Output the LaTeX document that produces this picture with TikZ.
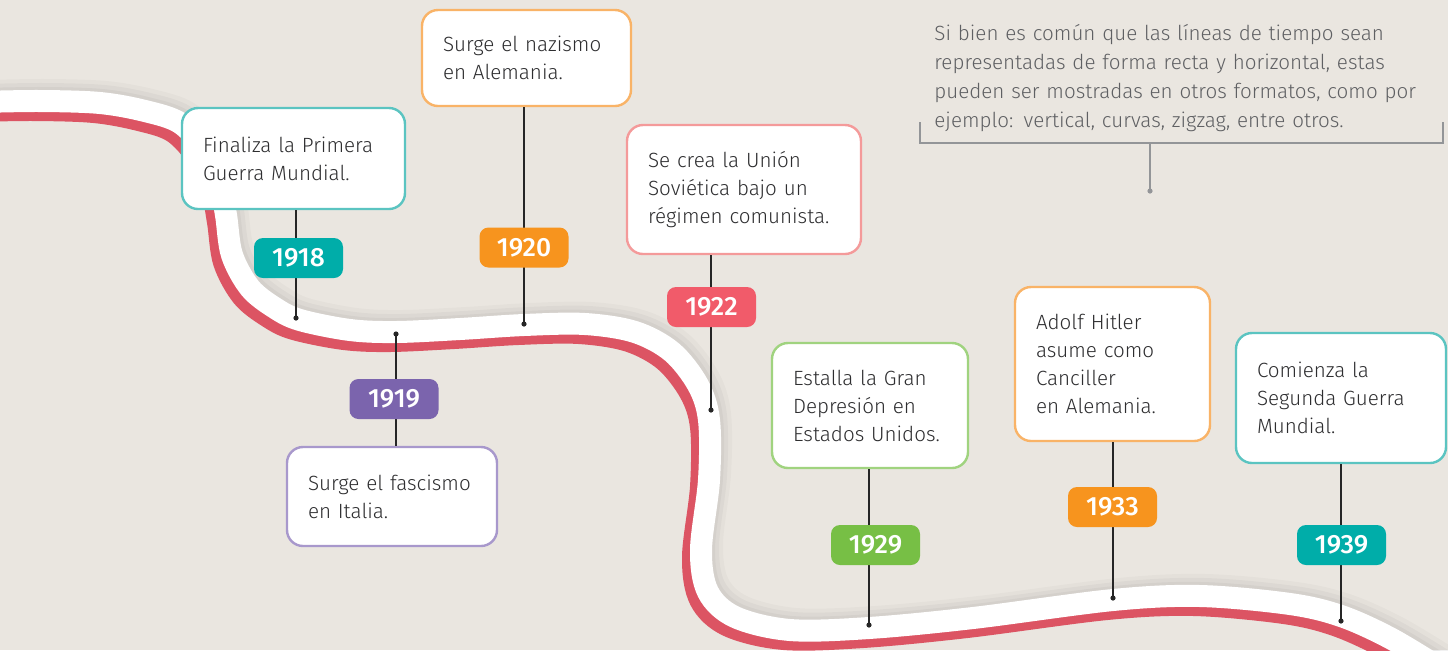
\documentclass[tikz,border=0pt]{standalone}
\usepackage{fontspec}
\setmainfont{Fira Sans}[UprightFont=* Light, BoldFont=* Medium]
\definecolor{bgbeige}{HTML}{EAE6E0}
\definecolor{tealline}{HTML}{5BC4C1}
\definecolor{tealfill}{HTML}{00ADA9}
\definecolor{orangeline}{HTML}{F9B367}
\definecolor{orangefill}{HTML}{F7941E}
\definecolor{purpleline}{HTML}{A898CC}
\definecolor{purplefill}{HTML}{7B64AD}
\definecolor{pinkline}{HTML}{F49A9A}
\definecolor{pinkfill}{HTML}{F15B6A}
\definecolor{greenline}{HTML}{A0D37F}
\definecolor{greenfill}{HTML}{77BF45}
\definecolor{roadred}{HTML}{DC5463}
\definecolor{inkgrey}{HTML}{2E2E30}
\definecolor{notegrey}{HTML}{5F6063}
\definecolor{bracegrey}{HTML}{939598}
\newcommand{\boxfont}{\fontsize{10.3}{14}\selectfont}

\begin{document}
\begin{tikzpicture}[x=0.5pt,y=-0.5pt,
  evbox/.style={draw=#1,line width=1.2pt,fill=white,rounded corners=8pt,
    align=left,inner xsep=10.5pt,inner ysep=0pt,text=inkgrey,font=\boxfont},
  yearbox/.style={fill=#1,rounded corners=4.5pt,minimum width=44.5pt,
    minimum height=20pt,inner sep=0pt,text=white,
    font=\fontsize{13.2}{14}\selectfont\bfseries},
  stem/.style={line width=0.55pt,draw=black!85}]
  \fill[bgbeige] (0,0) rectangle (1448,650);
  \useasboundingbox (0,0) rectangle (1448,650);
  % the road: shadow, red edge, white band
  \foreach \dx/\dy/\lw/\col/\op in {6/-6/16pt/black/0.025,4/-4/14pt/black/0.03,
      2/-2/12pt/black/0.035,-6/7/13pt/roadred/1,0/0/11pt/white/1}
    \draw[line width=\lw,draw=\col,opacity=\op,shift={(\dx,\dy)}]
      plot[smooth,tension=0.55] coordinates {(-20,102) (40,101) (100,103)
      (145,111) (180,123) (205,150) (220,185) (226,215) (232,255) (250,288)
      (275,308) (300,320) (350,330) (396,332) (460,329) (524,325) (585,324)
      (635,332) (672,352) (698,385) (709,420) (709,480) (701,550) (708,592)
      (735,617) (790,630) (869,628) (973,618) (1113,600) (1200,596)
      (1290,604) (1341,616) (1390,638) (1440,668)};
  % points on the road
  \coordinate (p1918) at (296,318);
  \coordinate (p1919) at (396,334);
  \coordinate (p1920) at (524,324);
  \coordinate (p1922) at (711,410);
  \coordinate (p1929) at (869,625);
  \coordinate (p1933) at (1113,598);
  \coordinate (p1939) at (1341,621);
  % events
  \node[evbox=tealline,text width=90.5pt,minimum height=50.5pt] (b1918)
    at (293.5,158.5) {Finaliza la Primera\\Guerra Mundial.};
  \node[evbox=orangeline,text width=83.5pt,minimum height=48pt] (b1920)
    at (526.5,58) {Surge el nazismo\\en Alemania.};
  \node[evbox=purpleline,text width=84pt,minimum height=49.5pt] (b1919)
    at (392,496.5) {Surge el fascismo\\en Italia.};
  \node[evbox=pinkline,text width=96pt,minimum height=64.5pt] (b1922)
    at (744,189.5) {Se crea la Unión\\Soviética bajo un\\régimen comunista.};
  \node[evbox=greenline,text width=77pt,minimum height=62.5pt] (b1929)
    at (870,405.5) {Estalla la Gran\\Depresión en\\Estados Unidos.};
  \node[evbox=orangeline,text width=76.5pt,minimum height=77pt] (b1933)
    at (1112.5,364) {Adolf Hitler\\asume como\\Canciller\\en Alemania.};
  \node[evbox=tealline,text width=84pt,minimum height=65pt] (b1939)
    at (1341,398) {Comienza la\\Segunda Guerra\\Mundial.};
  % stems
  \draw[stem] (b1918.south -| p1918) -- (p1918);
  \draw[stem] (b1920.south -| p1920) -- (p1920);
  \draw[stem] (p1919) -- (b1919.north -| p1919);
  \draw[stem] (b1922.south -| p1922) -- (p1922);
  \draw[stem] (b1929.south -| p1929) -- (p1929);
  \draw[stem] (b1933.south -| p1933) -- (p1933);
  \draw[stem] (b1939.south -| p1939) -- (p1939);
  \foreach \p in {p1918,p1919,p1920,p1922,p1929,p1933,p1939}
    \fill[black!85] (\p) circle (1.3pt);
  % years
  \node[yearbox=tealfill] (y1918) at (298.5,258) {1918};
  \node[yearbox=purplefill] (y1919) at (394,399) {1919};
  \node[yearbox=orangefill] (y1920) at (524,247.5) {1920};
  \node[yearbox=pinkfill] (y1922) at (711.5,307) {1922};
  \node[yearbox=greenfill] (y1929) at (875.5,545) {1929};
  \node[yearbox=orangefill] (y1933) at (1112.5,507) {1933};
  \node[yearbox=tealfill] (y1939) at (1341.5,545) {1939};
  % note
  \node[anchor=north west,inner sep=0pt,text width=250pt,align=left,
    text=notegrey,font=\fontsize{10.3}{14.5}\selectfont] (note) at (934,24)
    {Si bien es común que las líneas de tiempo sean\\
     representadas de forma recta y horizontal, estas\\
     pueden ser mostradas en otros formatos, como por\\
     ejemplo: vertical, curvas, zigzag, entre otros.};
  \coordinate (nl) at (920,122);
  \coordinate (nr) at (1443,122);
  \coordinate (nm) at (1150,143);
  \coordinate (nd) at (1150,191);
  \draw[bracegrey,line width=0.7pt] (nl) -- (nl |- nm) -| (nr);
  \draw[bracegrey,line width=0.7pt] (nm) -- (nd);
  \fill[bracegrey] (nd) circle (1.3pt);
\end{tikzpicture}
\end{document}
